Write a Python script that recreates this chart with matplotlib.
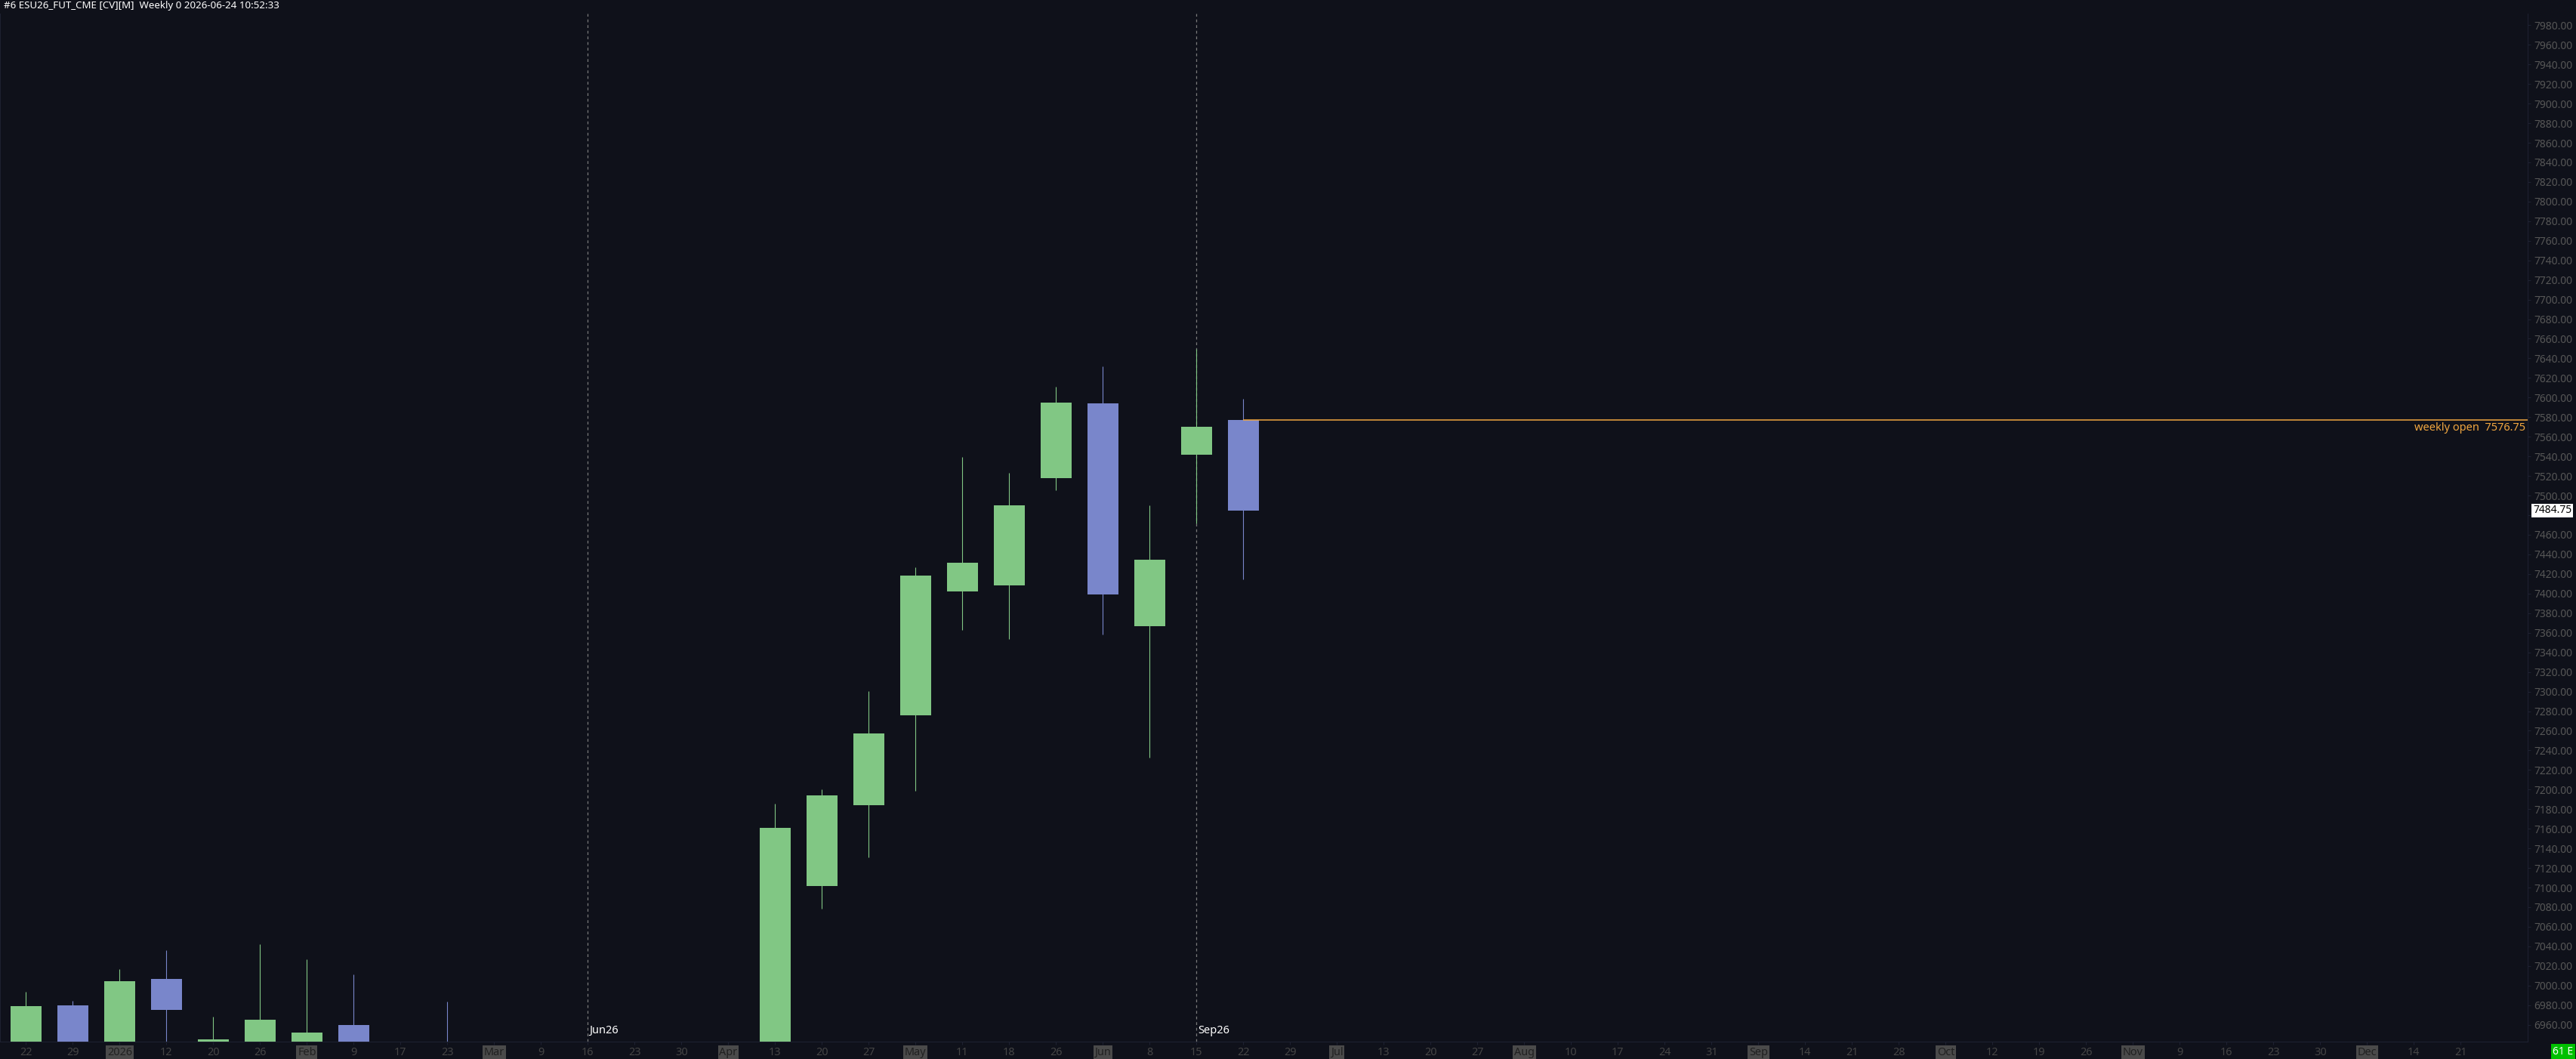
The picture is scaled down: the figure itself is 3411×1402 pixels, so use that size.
import numpy as np
import matplotlib
matplotlib.use("Agg")
import matplotlib.pyplot as plt

plt.rcParams['font.family'] = ['Noto Sans', 'DejaVu Sans']
NARROW = ['Liberation Sans Narrow', 'Noto Sans', 'DejaVu Sans']

# weekly bars, ESU26 continuous, index 0 = week of Dec 22 2025
week_labels = ["22", "29", "2026", "12", "20", "26", "Feb", "9", "17", "23", "Mar", "9", "16",
               "23", "30", "Apr", "13", "20", "27", "May", "11", "18", "26", "Jun", "8", "15",
               "22", "29", "Jul", "13", "20", "27", "Aug", "10", "17", "24", "31", "Sep", "14",
               "21", "28", "Oct", "12", "19", "26", "Nov", "9", "16", "23", "30", "Dec", "14", "21"]
month_labels = ["2026", "Feb", "Mar", "Apr", "May", "Jun", "Jul", "Aug", "Sep", "Oct", "Nov", "Dec"]

nan = np.nan
opens = [6900, 6980, 6920, 7006.75, 6920, 6900, 6900, 6959.75, nan, 6930,
         nan, nan, nan, nan, nan, nan,
         6900, 7101.75, 7184.25, 7275.5, 7402.25, 7408.25, 7517.75, 7594, 7366.75, 7541.5, 7576.75]
highs = [6993.5, 6984.5, 7016.75, 7036, 6968.25, 7042.25, 7026.75, 7011.5, nan, 6983.5,
         nan, nan, nan, nan, nan, nan,
         7185.5, 7200.25, 7300.5, 7426.75, 7539.25, 7523, 7611, 7631.75, 7490, 7649.25, 7598.75]
lows = [6890, 6900, 6910, 6900, 6910, 6890, 6890, 6880, nan, 6850,
        nan, nan, nan, nan, nan, nan,
        6880, 7078.75, 7131, 7198.75, 7363, 7353.5, 7505.5, 7358.25, 7232.5, 7471.5, 7414.5]
closes = [6979, 6910, 7004.5, 6975, 6945, 6965, 6952, 6900, nan, 6880,
          nan, nan, nan, nan, nan, nan,
          7161, 7194, 7257.25, 7418.25, 7431.5, 7490, 7595, 7399.25, 7434.5, 7570.25, 7484.75]

rollovers = [(12, "Jun26"), (25, "Sep26")]
weekly_open = 7576.75
last_price = 7484.75
title = "#6 ESU26_FUT_CME [CV][M]  Weekly 0 2026-06-24 10:52:33"

BG = "#0f111a"
UP = "#81c784"
DOWN = "#7986cb"
ORANGE = "#f0a640"
FAINT = "#1e2130"

W, H = 3412, 1402
fig = plt.figure(figsize=(W / 100, H / 100), dpi=100, facecolor=BG)
ax = fig.add_axes([0.0, 23 / H, 3347 / W, (1379 - 18) / H], facecolor=BG)

o = np.array(opens)
h = np.array(highs)
l = np.array(lows)
c = np.array(closes)
x = np.arange(len(o))
up = c >= o
colors = np.where(up, UP, DOWN)
ok = ~np.isnan(o)

ax.vlines(x[ok], l[ok], h[ok], colors=colors[ok], linewidth=0.8, zorder=2)
ax.bar(x[ok], np.abs(c - o)[ok], bottom=np.minimum(o, c)[ok], width=0.66,
       color=colors[ok], linewidth=0, zorder=3)

# contract roll markers
for idx, name in rollovers:
    ax.axvline(idx, color="#7a7a7a", linewidth=0.9, linestyle=(0, (3, 3)), zorder=1)
    ax.annotate(name, xy=(idx, 0), xycoords=("data", "axes fraction"),
                xytext=(2, 7), textcoords="offset pixels", ha="left", va="bottom",
                color="white", fontsize=10.5, fontweight="bold", family=NARROW)

# weekly open line
last_i = len(o) - 1
xmax = 53.43
ax.hlines(weekly_open, last_i, xmax, colors=ORANGE, linewidth=1.1, zorder=4)
ax.annotate(f"weekly open  {weekly_open:.2f}", xy=(1, weekly_open),
            xycoords=("axes fraction", "data"), xytext=(-3, -3), textcoords="offset pixels",
            ha="right", va="top", color=ORANGE, fontsize=10.5)

# last price tag
ax.annotate(f"{last_price:.2f}", xy=(1, last_price), xycoords=("axes fraction", "data"),
            xytext=(7, 0), textcoords="offset pixels", ha="left", va="center",
            color="black", fontsize=10, fontweight="bold", zorder=10,
            bbox=dict(facecolor="white", edgecolor="none", pad=1.3), annotation_clip=False)

ax.set_xlim(-0.556, xmax)
ax.set_ylim(6942.8, 7991.8)

# price scale; the 7480 label sits under the last price tag
yvals = np.arange(6960, 7981, 20)
ax.yaxis.tick_right()
ax.set_yticks(yvals)
ax.set_yticklabels(["" if abs(v - last_price) < 10 else f"{v:.2f}" for v in yvals])
ax.tick_params(axis="y", colors=FAINT, labelcolor="#565656", labelsize=10, length=3, width=0.8, pad=3)

ax.set_xticks(np.arange(len(week_labels)))
ax.set_xticklabels(week_labels)
ax.tick_params(axis="x", colors=FAINT, labelcolor="#454545", labelsize=10.4, length=3, width=0.8, pad=2)
for lbl in ax.get_xticklabels():
    lbl.set_fontweight("bold")
    lbl.set_family(NARROW)
    if lbl.get_text() in month_labels:
        lbl.set_color("#202020")
        lbl.set_bbox(dict(facecolor="#4a4a4a", edgecolor="none", pad=1.2))

for side in ["left", "bottom", "right"]:
    ax.spines[side].set_color(FAINT)
    ax.spines[side].set_linewidth(0.8)
ax.spines["top"].set_visible(False)

fig.text(5 / W, 1 - 1 / H, title, ha="left", va="top", color="white",
         fontsize=9.6, fontweight="bold")
fig.text(3394 / W, 1 - 1392 / H, "61 E", ha="center", va="center", color="white",
         fontsize=10, fontweight="bold", family=NARROW,
         bbox=dict(facecolor="#00c000", edgecolor="none", pad=2))

fig.savefig("out.png", dpi=100, facecolor=BG)
